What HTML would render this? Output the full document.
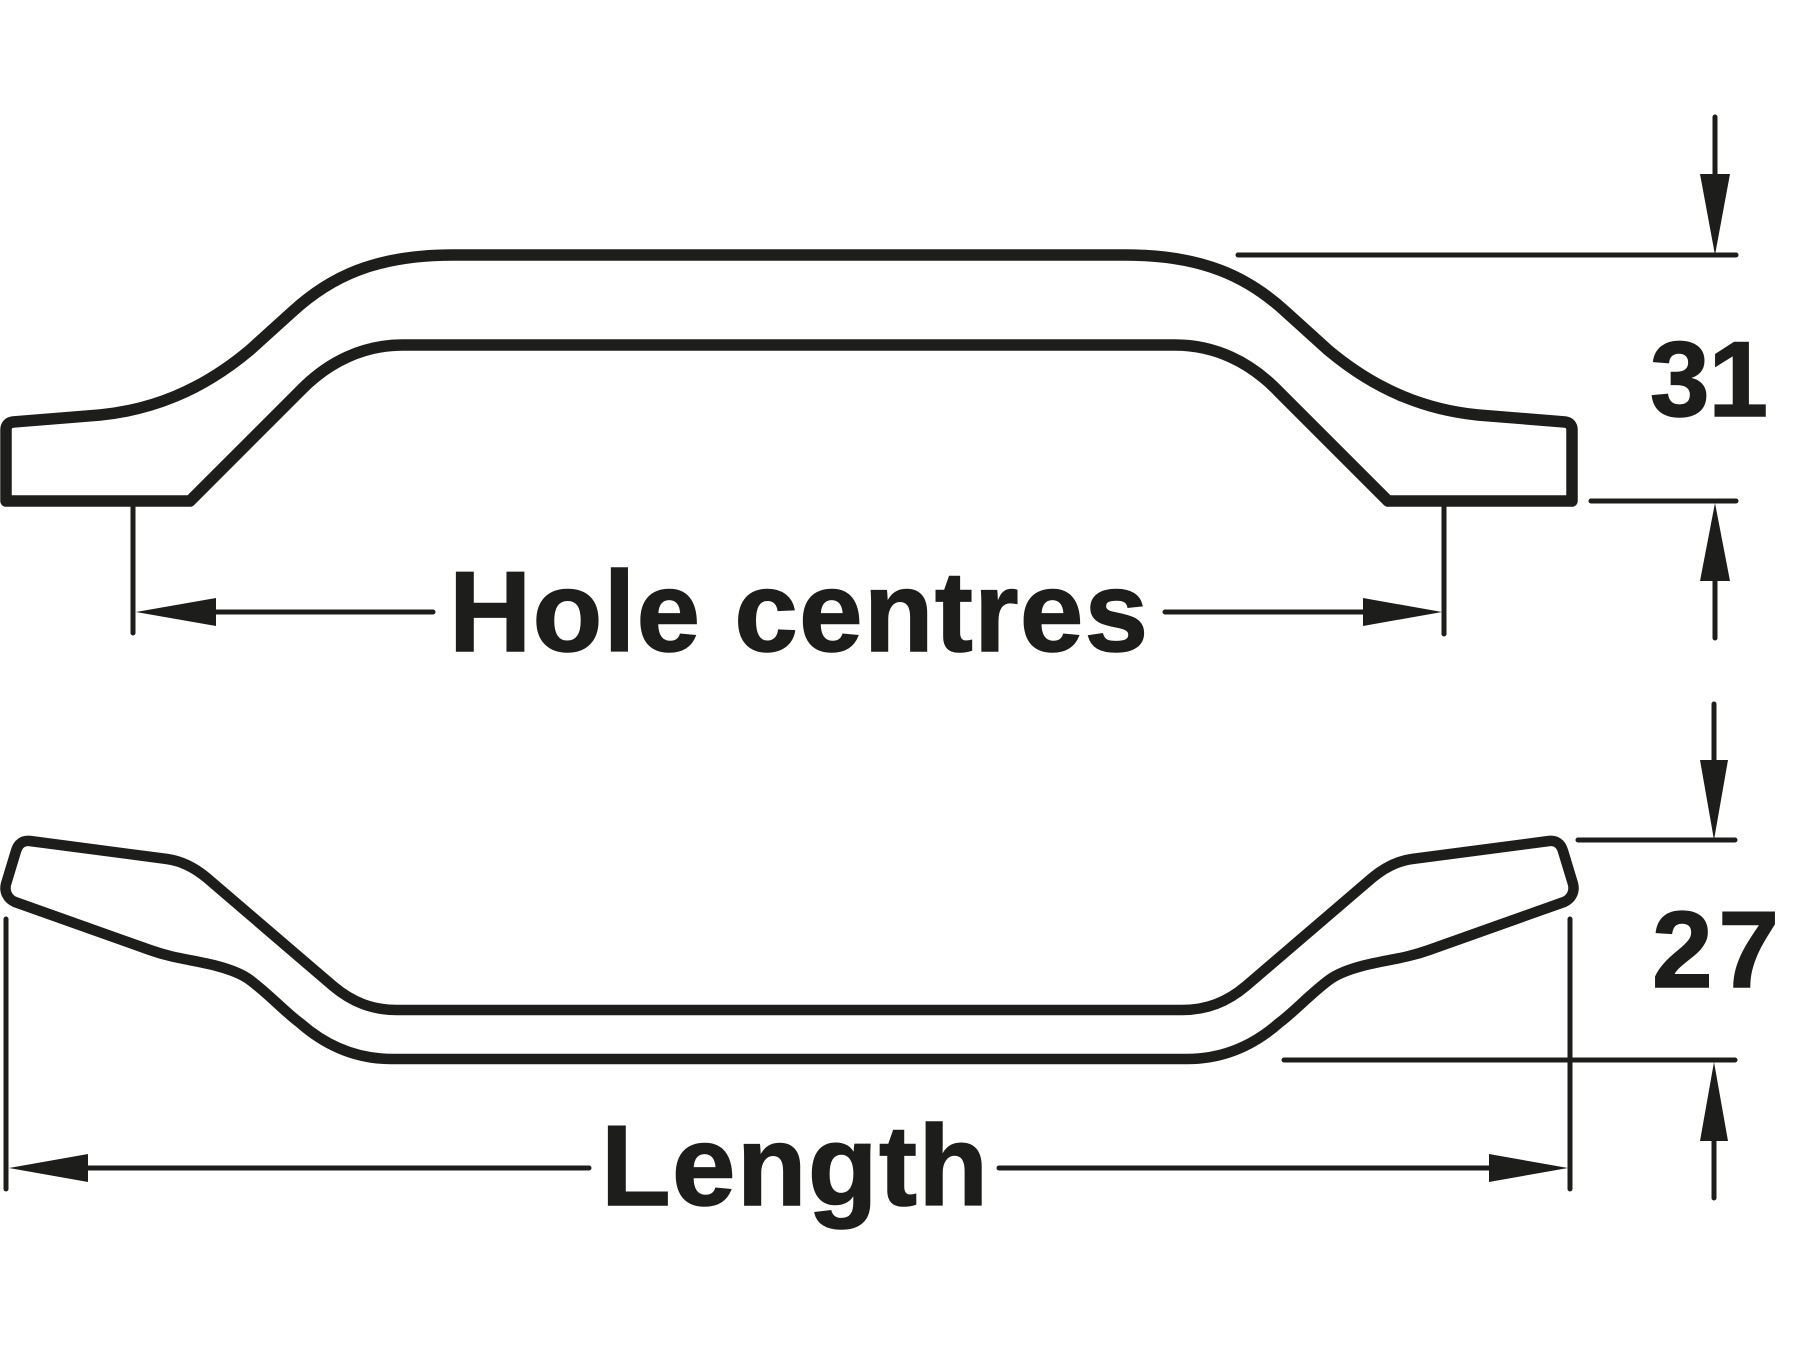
<!DOCTYPE html>
<html><head><meta charset="utf-8"><style>
html,body{margin:0;padding:0;background:#fff;width:1800px;height:1350px;overflow:hidden}
svg{display:block}
text{font-family:"Liberation Sans",Arial,sans-serif;font-weight:700;fill:#1d1d1b;stroke:#1d1d1b;stroke-width:1.5}
</style></head><body>
<svg width="1800" height="1350" viewBox="0 0 1800 1350" xmlns="http://www.w3.org/2000/svg">
<rect width="1800" height="1350" fill="#fff"/>
<g fill="none" stroke="#1d1d1b" stroke-linejoin="round" stroke-linecap="round">
<path stroke-width="11.5" d="M190,501 L6,501 L6,430 Q6,423 13,422 L100,415 C150,410 200,392 250,350 L292,312 C330,277 375,255 453,255 L1125,255 C1203,255 1248,277 1286,312 L1328,350 C1378,392 1428,410 1478,415 L1565,422 Q1572,423 1572,430 L1572,501 L1388,501 L1278,391 C1250,362 1215,345 1175,345 L403,345 C363,345 328,362 300,391 Z"/>
<path stroke-width="10.5" d="M30,841 L167,859 C182,861 195,868 207,878 L333,986 C352,1002 372,1010 397,1010 L1182,1010 C1207,1010 1227,1002 1246,986 L1372,878 C1384,868 1397,861 1412,859 L1549,841 C1556,840 1561,844 1563,851 L1573,884 C1575,892 1571,899 1564,902 L1429,950 C1404,959 1384,960 1362,966 C1347,970 1337,974 1329,980 C1309,995 1294,1012 1279,1023 C1254,1045 1224,1059 1187,1059 L392,1059 C355,1059 325,1045 300,1023 C285,1012 270,995 250,980 C242,974 232,970 217,966 C195,960 175,959 150,950 L15,902 C8,899 4,892 6,884 L16,851 C18,844 23,840 30,841 Z"/>
</g>
<g fill="none" stroke="#1d1d1b" stroke-width="5" stroke-linecap="round">
<path d="M133,503V633M1444,503V634M216,612H433M1165,612H1363"/>
<path d="M1715,117V174M1238,255H1736M1591,501H1736M1715,581V638"/>
<path d="M1714,704V760M1578,840H1735M1284,1060H1735M1714,1141V1198"/>
<path d="M6,919V1189M1570,919V1189M88,1168H589M999,1168H1489"/>
</g>
<g fill="#1d1d1b">
<polygon points="136,612 216,598 216,626"/>
<polygon points="1442,612 1363,598 1363,626"/>
<polygon points="1715,255 1700,174 1730,174"/>
<polygon points="1715,503 1700,581 1730,581"/>
<polygon points="1714,840 1700,760 1728,760"/>
<polygon points="1714,1062 1700,1141 1728,1141"/>
<polygon points="9,1168 88,1154 88,1182"/>
<polygon points="1568,1168 1489,1154 1489,1182"/>
</g>
<text x="449" y="651" font-size="114" textLength="699" lengthAdjust="spacing">Hole centres</text>
<text x="601" y="1205" font-size="114" textLength="387" lengthAdjust="spacing">Length</text>
<text x="1650" y="416" font-size="107" textLength="118" lengthAdjust="spacing">31</text>
<text x="1652" y="987" font-size="109" textLength="127" lengthAdjust="spacing">27</text>
</svg>
</body></html>
